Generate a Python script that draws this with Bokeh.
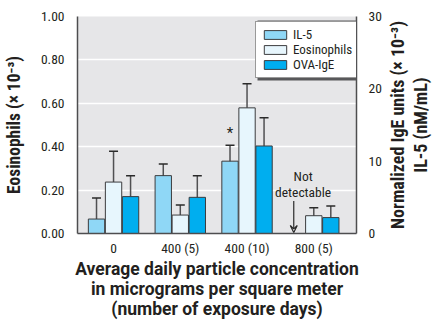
from bokeh.plotting import figure
from bokeh.layouts import row
from bokeh.models import (Range1d, LinearAxis, FixedTicker, Whisker, ColumnDataSource,
                          Legend, LegendItem, Label, Arrow, VeeHead, BoxAnnotation, Title)
from bokeh.embed import file_html
from bokeh.resources import INLINE

categories = ["0", "400 (5)", "400 (10)", "800 (5)"]
# Eosinophils (x10^-3), left axis
eos = [0.237, 0.085, 0.579, 0.082]
eos_lo = [0.094, 0.040, 0.466, 0.043]
eos_hi = [0.379, 0.131, 0.690, 0.119]
# IL-5 (nM/mL), right axis (not detectable at 800 (5))
il5 = [2.0, 8.0, 10.0, None]
il5_lo = [0.0, 6.2, 7.9, None]
il5_hi = [4.9, 9.6, 12.2, None]
# OVA-IgE normalized units (x10^-3), right axis
ige = [5.1, 5.0, 12.1, 2.2]
ige_lo = [1.9, 1.9, 8.2, 0.7]
ige_hi = [8.0, 8.0, 16.0, 3.8]
right_title = ["Normalized IgE units (\u00d7 10\u207b\u00b3)", "IL-5 (nM/mL)"]

FONT = "Roboto Condensed"
TFONT = "Roboto"
TXT = "#231f20"
C_IL5, C_EOS, C_IGE = "#8fd7f6", "#e7f6fd", "#00aeef"
BW = 0.245
OFF = 0.255
W2 = 48

p = figure(width=432 - W2, height=321, output_backend="svg", toolbar_location=None,
           x_range=Range1d(-0.54, 3.64), y_range=Range1d(0, 1.0),
           min_border_left=75, min_border_right=22, min_border_top=16, min_border_bottom=88)
p.extra_y_ranges = {"right": Range1d(0, 30)}
p.background_fill_color = "#e6e6e8"
p.border_fill_color = "white"
p.outline_line_color = None
p.xgrid.visible = False
p.ygrid.grid_line_color = "white"
p.ygrid.grid_line_width = 1.5
p.ygrid.ticker = FixedTicker(ticks=[0.2, 0.4, 0.6, 0.8])

idx = list(range(len(categories)))

def pos(off, vals):
    return [i + off for i, v in zip(idx, vals) if v is not None]

def keep(vals):
    return [v for v in vals if v is not None]

src_il5 = ColumnDataSource(dict(x=pos(-OFF, il5), top=keep(il5), lo=keep(il5_lo), hi=keep(il5_hi)))
src_eos = ColumnDataSource(dict(x=pos(0, eos), top=eos, lo=eos_lo, hi=eos_hi))
src_ige = ColumnDataSource(dict(x=pos(OFF, ige), top=ige, lo=ige_lo, hi=ige_hi))

EDGE = "#3c3c3e"
r_il5 = p.vbar(x="x", top="top", width=BW, source=src_il5, fill_color=C_IL5,
               line_color=EDGE, line_width=1, y_range_name="right")
r_eos = p.vbar(x="x", top="top", width=BW, source=src_eos, fill_color=C_EOS,
               line_color=EDGE, line_width=1)
r_ige = p.vbar(x="x", top="top", width=BW, source=src_ige, fill_color=C_IGE,
               line_color=EDGE, line_width=1, y_range_name="right")

for src, rng in [(src_il5, "right"), (src_eos, "default"), (src_ige, "right")]:
    w = Whisker(base="x", lower="lo", upper="hi", source=src, y_range_name=rng,
                line_color="#505052", line_width=1.5)
    for h in (w.upper_head, w.lower_head):
        h.size = 9
        h.line_color = "#2a2a2a"
        h.line_width = 1.5
    p.add_layout(w)

# axes
xax = p.xaxis[0]
lax = p.yaxis[0]
xax.ticker = FixedTicker(ticks=idx)
xax.major_label_overrides = {i: c for i, c in zip(idx, categories)}
yt = [0, 0.2, 0.4, 0.6, 0.8, 1.0]
lax.ticker = FixedTicker(ticks=yt)
lax.major_label_overrides = {t: f"{t:.2f}" for t in yt}
raxis = LinearAxis(y_range_name="right", ticker=FixedTicker(ticks=[0, 10, 20, 30]))
p.add_layout(raxis, "right")

for ax in [xax, lax, raxis]:
    ax.axis_line_color = "#4d4d4f"
    ax.axis_line_width = 1.5
    ax.major_tick_line_color = None
    ax.minor_tick_line_color = None
    ax.major_label_text_font = FONT
    ax.major_label_text_font_size = "13.5px"
    ax.major_label_text_color = TXT
    ax.axis_label_text_font = TFONT
    ax.axis_label_text_font_style = "bold"
    ax.axis_label_text_font_size = "17.5px"
    ax.axis_label_text_color = TXT
    ax.axis_label_text_line_height = 1.0

xax.major_label_standoff = 0
lax.major_label_standoff = 7
raxis.major_label_standoff = 6
xax.axis_label = ("Average daily particle concentration\n"
                  "in micrograms per square meter\n(number of exposure days)")
xax.axis_label_standoff = 0
lax.axis_label = "Eosinophils (\u00d7 10\u207b\u00b3)"
lax.axis_label_text_font = FONT
lax.axis_label_standoff = 14

# annotations
p.add_layout(Label(x=2 - OFF, y=il5_hi[2] + 0.5, y_range_name="right", text="*",
                   text_font=FONT, text_font_size="15px", text_color=TXT,
                   text_align="center", text_baseline="bottom"))
p.add_layout(Label(x=3 - 0.16, y=0.155, text="Not\ndetectable",
                   text_font=FONT, text_font_size="13.5px", text_color=TXT,
                   text_align="center", text_baseline="bottom", text_line_height=1.0))
p.add_layout(Arrow(x_start=3 - 0.3, y_start=0.15, x_end=3 - 0.3, y_end=0.005,
                   line_color="#2a2a2a", line_width=1.2,
                   end=VeeHead(size=7, line_color="#2a2a2a", line_width=1.2, fill_alpha=0)))

# legend with drop shadow
p.add_layout(BoxAnnotation(left=180, right=282, bottom=153, top=213,
                           left_units="screen", right_units="screen",
                           bottom_units="screen", top_units="screen",
                           fill_color="#58585a", fill_alpha=1, line_alpha=0))
legend = Legend(items=[LegendItem(label="IL-5", renderers=[r_il5]),
                       LegendItem(label="Eosinophils", renderers=[r_eos]),
                       LegendItem(label="OVA-IgE", renderers=[r_ige])],
                location=(178, 155))
legend.label_text_font = FONT
legend.label_text_font_size = "13px"
legend.label_text_color = TXT
legend.glyph_width = 28
legend.glyph_height = 11
legend.label_standoff = 4
legend.spacing = 0
legend.padding = 5
legend.label_height = 12
legend.border_line_color = "#333333"
legend.border_line_width = 1.2
legend.background_fill_color = "white"
legend.background_fill_alpha = 1
p.add_layout(legend)

# right-hand axis title (two lines, reading bottom to top)
p2 = figure(width=W2, height=321, output_backend="svg", toolbar_location=None,
            x_range=Range1d(0, 1), y_range=Range1d(0, 1),
            min_border_left=4, min_border_right=0, min_border_top=16, min_border_bottom=88,
            x_axis_location=None, y_axis_location=None)
p2.grid.visible = False
p2.outline_line_color = None
p2.background_fill_color = "white"
p2.border_fill_color = "white"
for line in reversed(right_title):
    p2.add_layout(Title(text=line, align="center", standoff=0, text_font=FONT,
                        text_font_style="bold", text_font_size="18px", text_color=TXT), "left")

layout = row(p, p2, spacing=0)
open("out.html", "w").write(file_html(layout, INLINE))
